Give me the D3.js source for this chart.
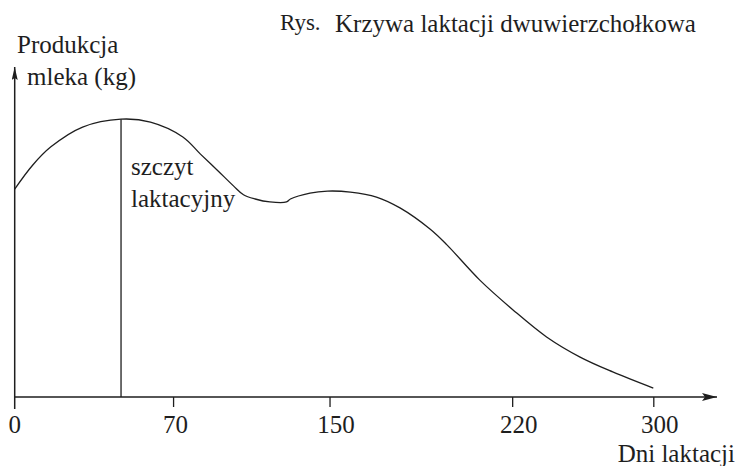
<!DOCTYPE html>
<html>
<head>
<meta charset="utf-8">
<script src="https://cdn.jsdelivr.net/npm/d3@7"></script>
<style>
  html, body { margin: 0; padding: 0; background: #fff; }
</style>
</head>
<body>
<div id="chart"></div>
<script>
// dane (jednostki umowne na osi Y)
const dayTicks = [0, 70, 150, 220, 300];
const days = [0, 8, 16, 30, 47, 60, 75, 84, 92.5, 101, 106, 112, 119.5, 128, 130, 140, 149, 158, 168, 177, 188.5, 195, 207.5, 220.5, 239.5, 258.5, 277, 300];
const milk = [63, 70.3, 75.8, 81.8, 84.2, 83.3, 78.8, 73.6, 68.8, 63.9, 61.3, 60.0, 59.1, 59.1, 60, 61.8, 62.4, 62.1, 60.6, 57.3, 50.9, 46.1, 35.5, 26.4, 18.2, 12.1, 7.6, 2.7];
const peakDay = 47;
const titlePrefix = "Rys.";
const title = "Krzywa laktacji dwuwierzchołkowa";
const yLabel = ["Produkcja", "mleka (kg)"];
const xLabel = "Dni laktacji";
const peakLabel = ["szczyt", "laktacyjny"];

const svgWidth = 739, svgHeight = 466;
const x0 = 14.7, x1 = 653.3;
const yBase = 397, yTop = 67;
const serif = "'Liberation Serif', 'Times New Roman', 'DejaVu Serif', serif";
const ink = "#1e1e1e";

const svg = d3.select("#chart").append("svg")
    .attr("width", svgWidth)
    .attr("height", svgHeight)
    .style("font-family", serif);

// podziałka osi X nie jest równomierna na rysunku
const tickFrac = [0, 0.248, 0.493, 0.779, 1];
const xScale = d3.scaleLinear()
    .domain(dayTicks)
    .range(tickFrac.map(f => x0 + f * (x1 - x0)));

const yScale = d3.scaleLinear()
    .domain([0, 100])
    .range([yBase, yTop]);

// groty strzałek
const defs = svg.append("defs");
defs.append("marker")
    .attr("id", "arrow")
    .attr("viewBox", "0 0 15 8")
    .attr("refX", 15).attr("refY", 4)
    .attr("markerWidth", 15).attr("markerHeight", 8)
    .attr("markerUnits", "userSpaceOnUse")
    .attr("orient", "auto")
    .append("path")
    .attr("d", "M0,0 L15,4 L0,8 L3,4 Z")
    .attr("fill", ink);

defs.append("marker")
    .attr("id", "arrowSmall")
    .attr("viewBox", "0 0 13 6")
    .attr("refX", 13).attr("refY", 3)
    .attr("markerWidth", 13).attr("markerHeight", 6)
    .attr("markerUnits", "userSpaceOnUse")
    .attr("orient", "auto")
    .append("path")
    .attr("d", "M0,0 L13,3 L0,6 L2,3 Z")
    .attr("fill", ink);

function label(x, y, str, size, anchor) {
    return svg.append("text")
        .attr("x", x).attr("y", y)
        .attr("text-anchor", anchor || "start")
        .attr("font-size", size)
        .attr("fill", ink)
        .style("font-family", serif)
        .text(str);
}

// oś X
const xAxis = svg.append("g")
    .attr("transform", `translate(0, ${yBase})`)
    .call(d3.axisBottom(xScale)
        .tickValues(dayTicks.slice(1))
        .tickSize(10)
        .tickPadding(8)
        .tickFormat(d3.format("d")));
xAxis.select(".domain").remove();
xAxis.selectAll(".tick line").attr("stroke", ink).attr("stroke-width", 1.3);
xAxis.selectAll(".tick text")
    .attr("font-size", 25)
    .attr("fill", ink)
    .attr("dx", d => d >= 150 ? 6 : 2)
    .style("font-family", serif);

label(xScale(0), yBase + 36, dayTicks[0], 25, "middle");

svg.append("line")
    .attr("x1", xScale(0)).attr("x2", 717)
    .attr("y1", yBase).attr("y2", yBase)
    .attr("stroke", ink).attr("stroke-width", 1.6)
    .attr("marker-end", "url(#arrow)");

// oś Y
svg.append("line")
    .attr("x1", xScale(0)).attr("x2", xScale(0))
    .attr("y1", yBase + 12).attr("y2", yTop)
    .attr("stroke", ink).attr("stroke-width", 1.5)
    .attr("marker-end", "url(#arrowSmall)");

// krzywa laktacji
const line = d3.line()
    .x((d, i) => xScale(days[i]))
    .y(d => yScale(d))
    .curve(d3.curveCatmullRom.alpha(0.5));

svg.append("path")
    .datum(milk)
    .attr("d", line)
    .attr("fill", "none")
    .attr("stroke", ink)
    .attr("stroke-width", 1.3);

// szczyt laktacyjny
const peakValue = milk[days.indexOf(peakDay)];
svg.append("line")
    .attr("x1", xScale(peakDay)).attr("x2", xScale(peakDay))
    .attr("y1", yScale(peakValue)).attr("y2", yBase)
    .attr("stroke", ink).attr("stroke-width", 1.3);

label(131, 175, peakLabel[0], 25);
label(131, 207, peakLabel[1], 25);

// opisy osi i tytuł
label(17, 53, yLabel[0], 25);
label(27, 85, yLabel[1], 25);
label(735, 462, xLabel, 25, "end");
label(280, 30, titlePrefix, 23);
label(335, 32, title, 25);
</script>
</body>
</html>
